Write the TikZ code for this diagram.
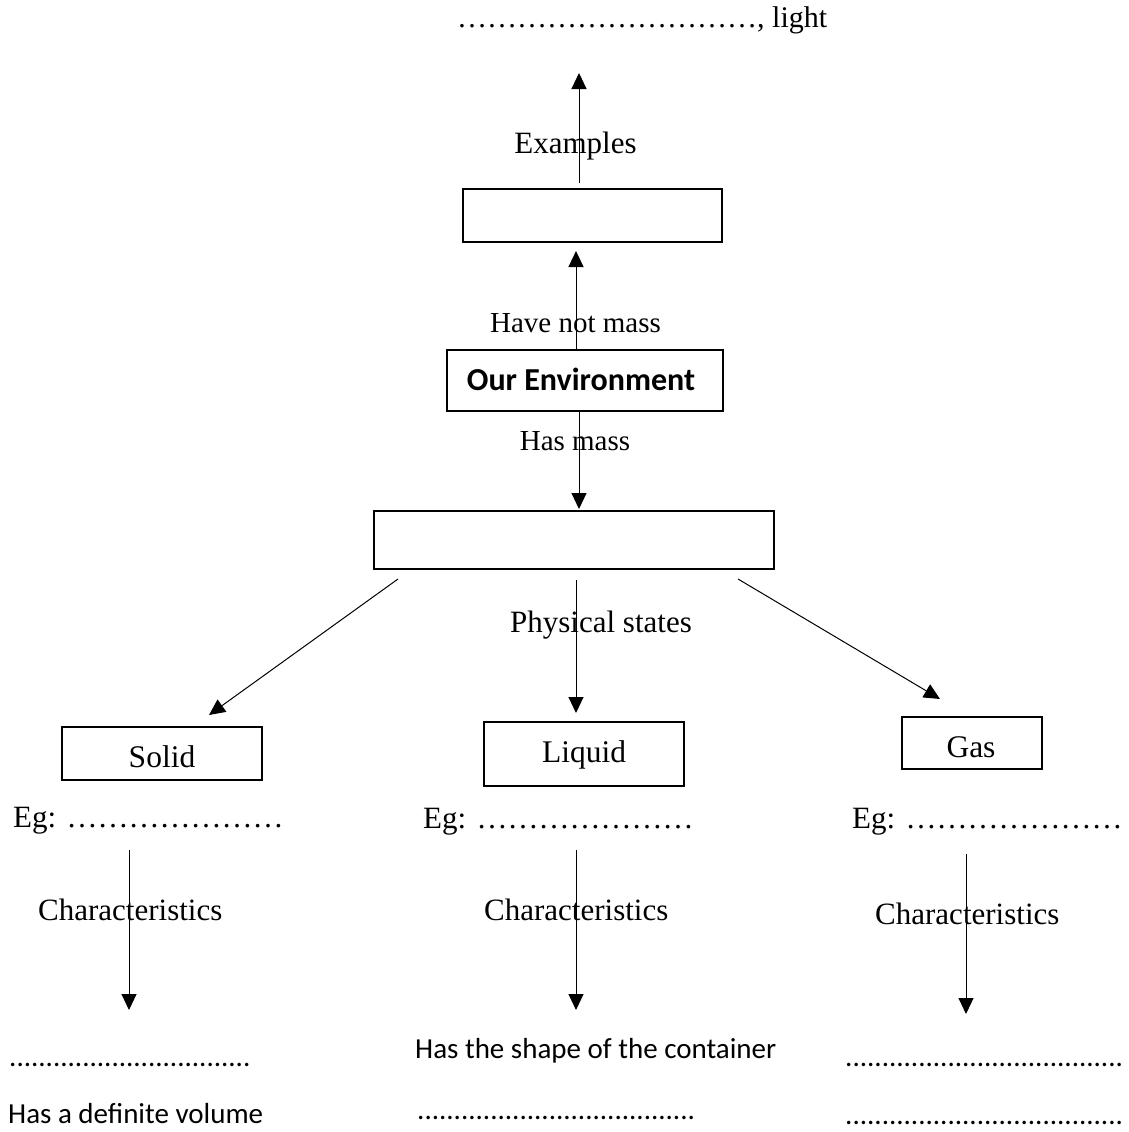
\documentclass[tikz,border=0pt]{standalone}
\usepackage{fontspec}
\setmainfont{Liberation Serif}
\newfontfamily\carl{Carlito}
\usetikzlibrary{arrows.meta}
\newcommand\fsz[1]{\fontsize{#1}{#1}\selectfont}
\newcommand\repl[2]{\foreach\ri in {1,...,#1}{#2}}
\begin{document}
\begin{tikzpicture}[x=1pt,y=-1pt,
  txt/.style={inner sep=0pt, anchor=base},
  txtl/.style={inner sep=0pt, anchor=base west},
  bx/.style={draw, line width=1.2pt, inner sep=0pt},
  tbx/.style={draw, line width=2.8pt, inner sep=0pt},
  arr/.style={line width=1pt, -{Triangle[length=16pt,width=15pt]}}]
\useasboundingbox (0,0) rectangle (1129,1132);

% boxes
\node[tbx, minimum width=259pt, minimum height=53pt] (b1) at (592.5,215.5) {};
\node[bx, minimum width=276pt, minimum height=61pt] (oe) at (585,380.5) {};
\node[tbx, minimum width=400pt, minimum height=58pt] (b2) at (574,540) {};
\node[bx, minimum width=200pt, minimum height=53pt] (solid) at (162,753.5) {};
\node[bx, minimum width=200pt, minimum height=64pt] (liquid) at (584,754) {};
\node[bx, minimum width=140pt, minimum height=52pt] (gas) at (972,743) {};

% box texts
\node[txt, font=\carl\bfseries\fsz{32}] (oet) at (581,390) {Our Environment};
\node[txt, font=\fsz{31.5}] (solidt) at (162,767) {Solid};
\node[txt, font=\fsz{31.5}] (liquidt) at (584,762) {Liquid};
\node[txt, font=\fsz{31.5}] (gast) at (971,757) {Gas};

% labels
\node[txtl, font=\fsz{30}] (top) at (457,28) {\repl{10}{…}, light};
\node[txt, font=\fsz{31}] (lex) at (575.5,153) {Examples};
\node[txt, font=\fsz{29}] (lhnm) at (575.5,332) {Have not mass};
\node[txt, font=\fsz{29}] (lhm) at (575,450) {Has mass};
\node[txt, font=\fsz{31}] (lps) at (601,632) {Physical states};

\node[txtl, font=\fsz{31}] (eg1) at (13,827) {Eg: \repl{7}{…}};
\node[txtl, font=\fsz{31}] (eg2) at (423,828) {Eg: \repl{7}{…}};
\node[txtl, font=\fsz{31}] (eg3) at (852,828) {Eg: \repl{7}{…}};

\node[txtl, font=\fsz{31}] (ch1) at (38,920) {Characteristics};
\node[txtl, font=\fsz{31}] (ch2) at (484,920) {Characteristics};
\node[txtl, font=\fsz{31}] (ch3) at (875,924) {Characteristics};

\node[txtl, font=\carl\fsz{29}] (s1) at (9,1066) {\repl{33}{.}};
\node[txtl, font=\carl\fsz{29}] (s2) at (8,1123) {Has a definite volume};
\node[txtl, font=\carl\fsz{29}] (l1) at (415,1058) {Has the shape of the container};
\node[txtl, font=\carl\fsz{29}] (l2) at (417,1119) {\repl{38}{.}};
\node[txtl, font=\carl\fsz{29}] (g1) at (845,1066) {\repl{38}{.}};
\node[txtl, font=\carl\fsz{29}] (g2) at (845,1124) {\repl{38}{.}};

% connector end points
\coordinate (ex0) at (579,183);
\coordinate (ex1) at (579,73);
\coordinate (hn0) at (576,350);
\coordinate (hn1) at (576,251);
\coordinate (hm0) at (579,411);
\coordinate (hm1) at (579,509);
\coordinate (pl0) at (398,579);
\coordinate (pl1) at (209,715);
\coordinate (pm0) at (576,580);
\coordinate (pm1) at (576,713);
\coordinate (pr0) at (738,579);
\coordinate (pr1) at (940,699);
\coordinate (c10) at (129,850);
\coordinate (c11) at (129,1010);
\coordinate (c20) at (576,850);
\coordinate (c21) at (576,1010);
\coordinate (c30) at (966,854);
\coordinate (c31) at (966,1014);

% connectors
\draw[arr] (ex0) -- (ex1);
\draw[arr] (hn0) -- (hn1);
\draw[arr] (hm0) -- (hm1);
\draw[arr] (pl0) -- (pl1);
\draw[arr] (pm0) -- (pm1);
\draw[arr] (pr0) -- (pr1);
\draw[arr] (c10) -- (c11);
\draw[arr] (c20) -- (c21);
\draw[arr] (c30) -- (c31);
\end{tikzpicture}
\end{document}
